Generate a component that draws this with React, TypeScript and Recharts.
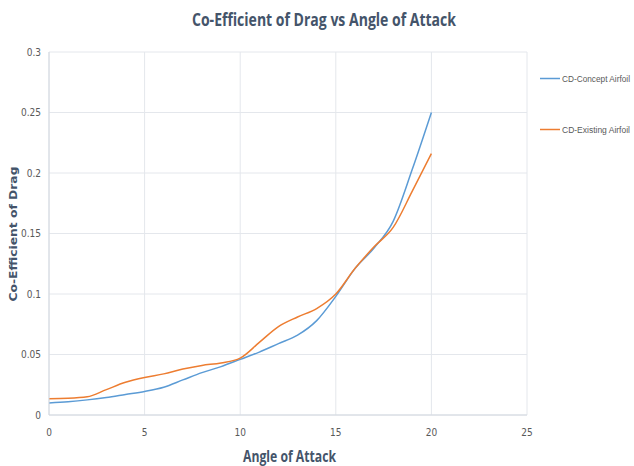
import React from "react";
import { LineChart, Line, XAxis, YAxis, CartesianGrid } from "recharts";

// Angle of attack (degrees)
const angles = [0, 1, 2, 3, 4, 5, 6, 7, 8, 9, 10, 11, 12, 13, 14, 15, 16, 17, 18, 19, 20];
// Drag coefficient, concept airfoil
const cdConcept = [0.01, 0.011, 0.0125, 0.0145, 0.017, 0.0195, 0.023, 0.029, 0.035, 0.04, 0.046, 0.052, 0.059, 0.066, 0.078, 0.098, 0.121, 0.138, 0.16, 0.203, 0.25];
// Drag coefficient, existing airfoil
const cdExisting = [0.0135, 0.0138, 0.015, 0.021, 0.027, 0.031, 0.034, 0.038, 0.041, 0.043, 0.047, 0.06, 0.073, 0.081, 0.088, 0.1, 0.121, 0.139, 0.155, 0.185, 0.216];

const xTicks = [0, 5, 10, 15, 20, 25];
const yTicks = [0, 0.05, 0.1, 0.15, 0.2, 0.25, 0.3];

const seriesNames = ["CD-Concept Airfoil", "CD-Existing Airfoil"];
const seriesColors = ["#5B9BD5", "#ED7D31"];

const data = angles.map((a, i) => ({ angle: a, concept: cdConcept[i], existing: cdExisting[i] }));

const humanist = "'Open Sans', 'Noto Sans', sans-serif";
const condensed = "'DejaVu Sans Condensed', 'DejaVu Sans', sans-serif";
const legendFont = "'Liberation Sans', Arial, sans-serif";
const titleColor = "#44546A";
const tickColor = "#595959";

// Title, axis titles and legend drawn as one SVG layer over the chart
function Annotations() {
  return (
    <svg width={634} height={466} style={{ position: "absolute", left: 0, top: 0, pointerEvents: "none" }}>
      <text
        x={192}
        y={26}
        textLength={264}
        lengthAdjust="spacingAndGlyphs"
        fill={titleColor}
        fontFamily={humanist}
        fontWeight="bold"
        fontSize={17.5}
      >
        Co-Efficient of Drag vs Angle of Attack
      </text>
      <text
        x={243}
        y={462}
        textLength={93}
        lengthAdjust="spacingAndGlyphs"
        fill={titleColor}
        fontFamily={humanist}
        fontWeight="bold"
        fontSize={15.5}
      >
        Angle of Attack
      </text>
      <text
        transform="translate(17 234) rotate(-90)"
        x={0}
        y={0}
        textAnchor="middle"
        textLength={135}
        lengthAdjust="spacingAndGlyphs"
        fill={titleColor}
        fontFamily="'DejaVu Sans', sans-serif"
        fontWeight="bold"
        fontSize={11}
      >
        Co-Efficient of Drag
      </text>
      {seriesNames.map((name, i) => {
        const y = i === 0 ? 78.5 : 129.5;
        return (
          <g key={name}>
            <line x1={540} x2={560} y1={y} y2={y} stroke={seriesColors[i]} strokeWidth={1.5} />
            <text
              x={562}
              y={y + 3.2}
              textLength={68}
              lengthAdjust="spacingAndGlyphs"
              fill={tickColor}
              fontFamily={legendFont}
              fontSize={8.3}
            >
              {name}
            </text>
          </g>
        );
      })}
    </svg>
  );
}

export default function App() {
  return (
    <div style={{ position: "absolute", left: 0, top: 0, width: 634, height: 466, background: "#fff" }}>
      <LineChart width={634} height={466} data={data} margin={{ top: 52, right: 107, bottom: 0, left: 0 }}>
        <CartesianGrid stroke="#E4E7EC" strokeWidth={1} />
        <XAxis
          dataKey="angle"
          type="number"
          domain={[0, 25]}
          ticks={xTicks}
          height={51}
          tickLine={false}
          tickMargin={8}
          axisLine={{ stroke: "#D3D8E0" }}
          tick={{ fill: tickColor, fontSize: 10, fontFamily: condensed }}
        />
        <YAxis
          type="number"
          domain={[0, 0.3]}
          ticks={yTicks}
          width={49}
          tickLine={false}
          axisLine={{ stroke: "#D3D8E0" }}
          tick={{ fill: tickColor, fontSize: 10, fontFamily: condensed }}
        />
        <Line
          type="monotone"
          dataKey="concept"
          name={seriesNames[0]}
          stroke={seriesColors[0]}
          strokeWidth={1.5}
          dot={false}
          isAnimationActive={false}
        />
        <Line
          type="monotone"
          dataKey="existing"
          name={seriesNames[1]}
          stroke={seriesColors[1]}
          strokeWidth={1.5}
          dot={false}
          isAnimationActive={false}
        />
      </LineChart>
      <Annotations />
    </div>
  );
}
